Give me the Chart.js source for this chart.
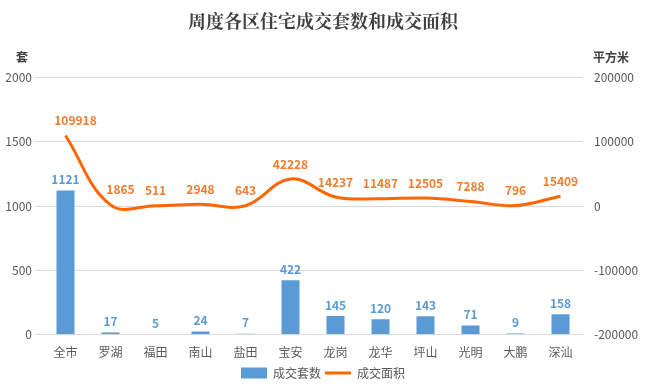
<!DOCTYPE html>
<html>
<head>
<meta charset="utf-8">
<script src="https://cdn.jsdelivr.net/npm/chart.js@4/dist/chart.umd.min.js"></script>
<style>
  html, body { margin: 0; padding: 0; background: #fff; }
  #wrap { width: 646px; height: 390px; }
</style>
</head>
<body>
<div id="wrap"><canvas id="grafica" width="646" height="390"></canvas></div>
<script>
var distritos = ["全市", "罗湖", "福田", "南山", "盐田", "宝安", "龙岗", "龙华", "坪山", "光明", "大鹏", "深汕"];
var taoshu = [1121, 17, 5, 24, 7, 422, 145, 120, 143, 71, 9, 158];
var mianji = [109918, 1865, 511, 2948, 643, 42228, 14237, 11487, 12505, 7288, 796, 15409];

var fuente = "'Noto Sans CJK SC', 'Microsoft YaHei', sans-serif";
var gris = "#595959";

// etiquetas encima de barras y puntos, y los títulos de los ejes
var etiquetas = {
    id: "etiquetas",
    afterDatasetsDraw: function(chart) {
        var ctx = chart.ctx;
        ctx.save();
        ctx.textAlign = "center";
        ctx.textBaseline = "middle";
        ctx.font = "bold 12px " + fuente;
        chart.getDatasetMeta(0).data.forEach(function(bar, i) {
            ctx.fillStyle = "#5B9BD5";
            ctx.fillText(taoshu[i], bar.x, bar.y - 11);
        });
        chart.getDatasetMeta(1).data.forEach(function(pt, i) {
            // las dos primeras quedan corridas a la derecha para no pisar la curva
            var dx = i < 2 ? 10 : 0;
            ctx.fillStyle = "#ED7D31";
            ctx.fillText(mianji[i], pt.x + dx, pt.y - 15);
        });
        ctx.fillStyle = "#404040";
        ctx.fillText("套", 22, 57);
        ctx.fillText("平方米", 611, 57);
        ctx.restore();
    }
};

var simple = function(v) { return String(v); };

var ctx = document.getElementById("grafica").getContext("2d");
var grafica = new Chart(ctx, {
    type: "bar",
    data: {
        labels: distritos,
        datasets: [{
            label: "成交套数",
            data: taoshu,
            backgroundColor: "#5B9BD5",
            barPercentage: 0.8,
            categoryPercentage: 0.5,
            yAxisID: "y",
            order: 2,
            pointStyle: "rect"
        }, {
            type: "line",
            label: "成交面积",
            data: mianji,
            borderColor: "#FF6600",
            backgroundColor: "#FF6600",
            borderWidth: 3,
            pointRadius: 0,
            tension: 0.4,
            fill: false,
            yAxisID: "y1",
            order: 1,
            pointStyle: "line"
        }]
    },
    options: {
        responsive: false,
        animation: false,
        layout: { padding: { left: 0, right: 0, top: 4, bottom: 1 } },
        plugins: {
            title: {
                display: true,
                text: "周度各区住宅成交套数和成交面积",
                color: "#404040",
                font: { size: 18, weight: "bold", family: "'Noto Serif CJK SC', 'Noto Sans CJK SC', serif" },
                padding: { top: 6, bottom: 46 }
            },
            legend: {
                position: "bottom",
                labels: {
                    usePointStyle: true,
                    pointStyleWidth: 26,
                    boxHeight: 11,
                    color: gris,
                    font: { size: 12, family: fuente },
                    padding: 4,
                    sort: function(a, b) { return a.datasetIndex - b.datasetIndex; }
                }
            },
            tooltip: { enabled: false }
        },
        scales: {
            x: {
                grid: { display: false },
                border: { color: "#d9d9d9" },
                ticks: { color: gris, font: { size: 12, family: fuente }, maxRotation: 0 }
            },
            y: {
                position: "left",
                min: 0, max: 2000,
                ticks: { stepSize: 500, color: gris, font: { size: 12, family: fuente }, callback: simple },
                grid: { color: "#d9d9d9" },
                border: { display: false },
                afterFit: function(s) { s.width = 43; }
            },
            y1: {
                position: "right",
                min: -200000, max: 200000,
                ticks: { stepSize: 100000, color: gris, font: { size: 12, family: fuente }, callback: simple },
                grid: { display: false },
                border: { display: false },
                afterFit: function(s) { s.width = 63; }
            }
        }
    },
    plugins: [etiquetas]
});
</script>
</body>
</html>
